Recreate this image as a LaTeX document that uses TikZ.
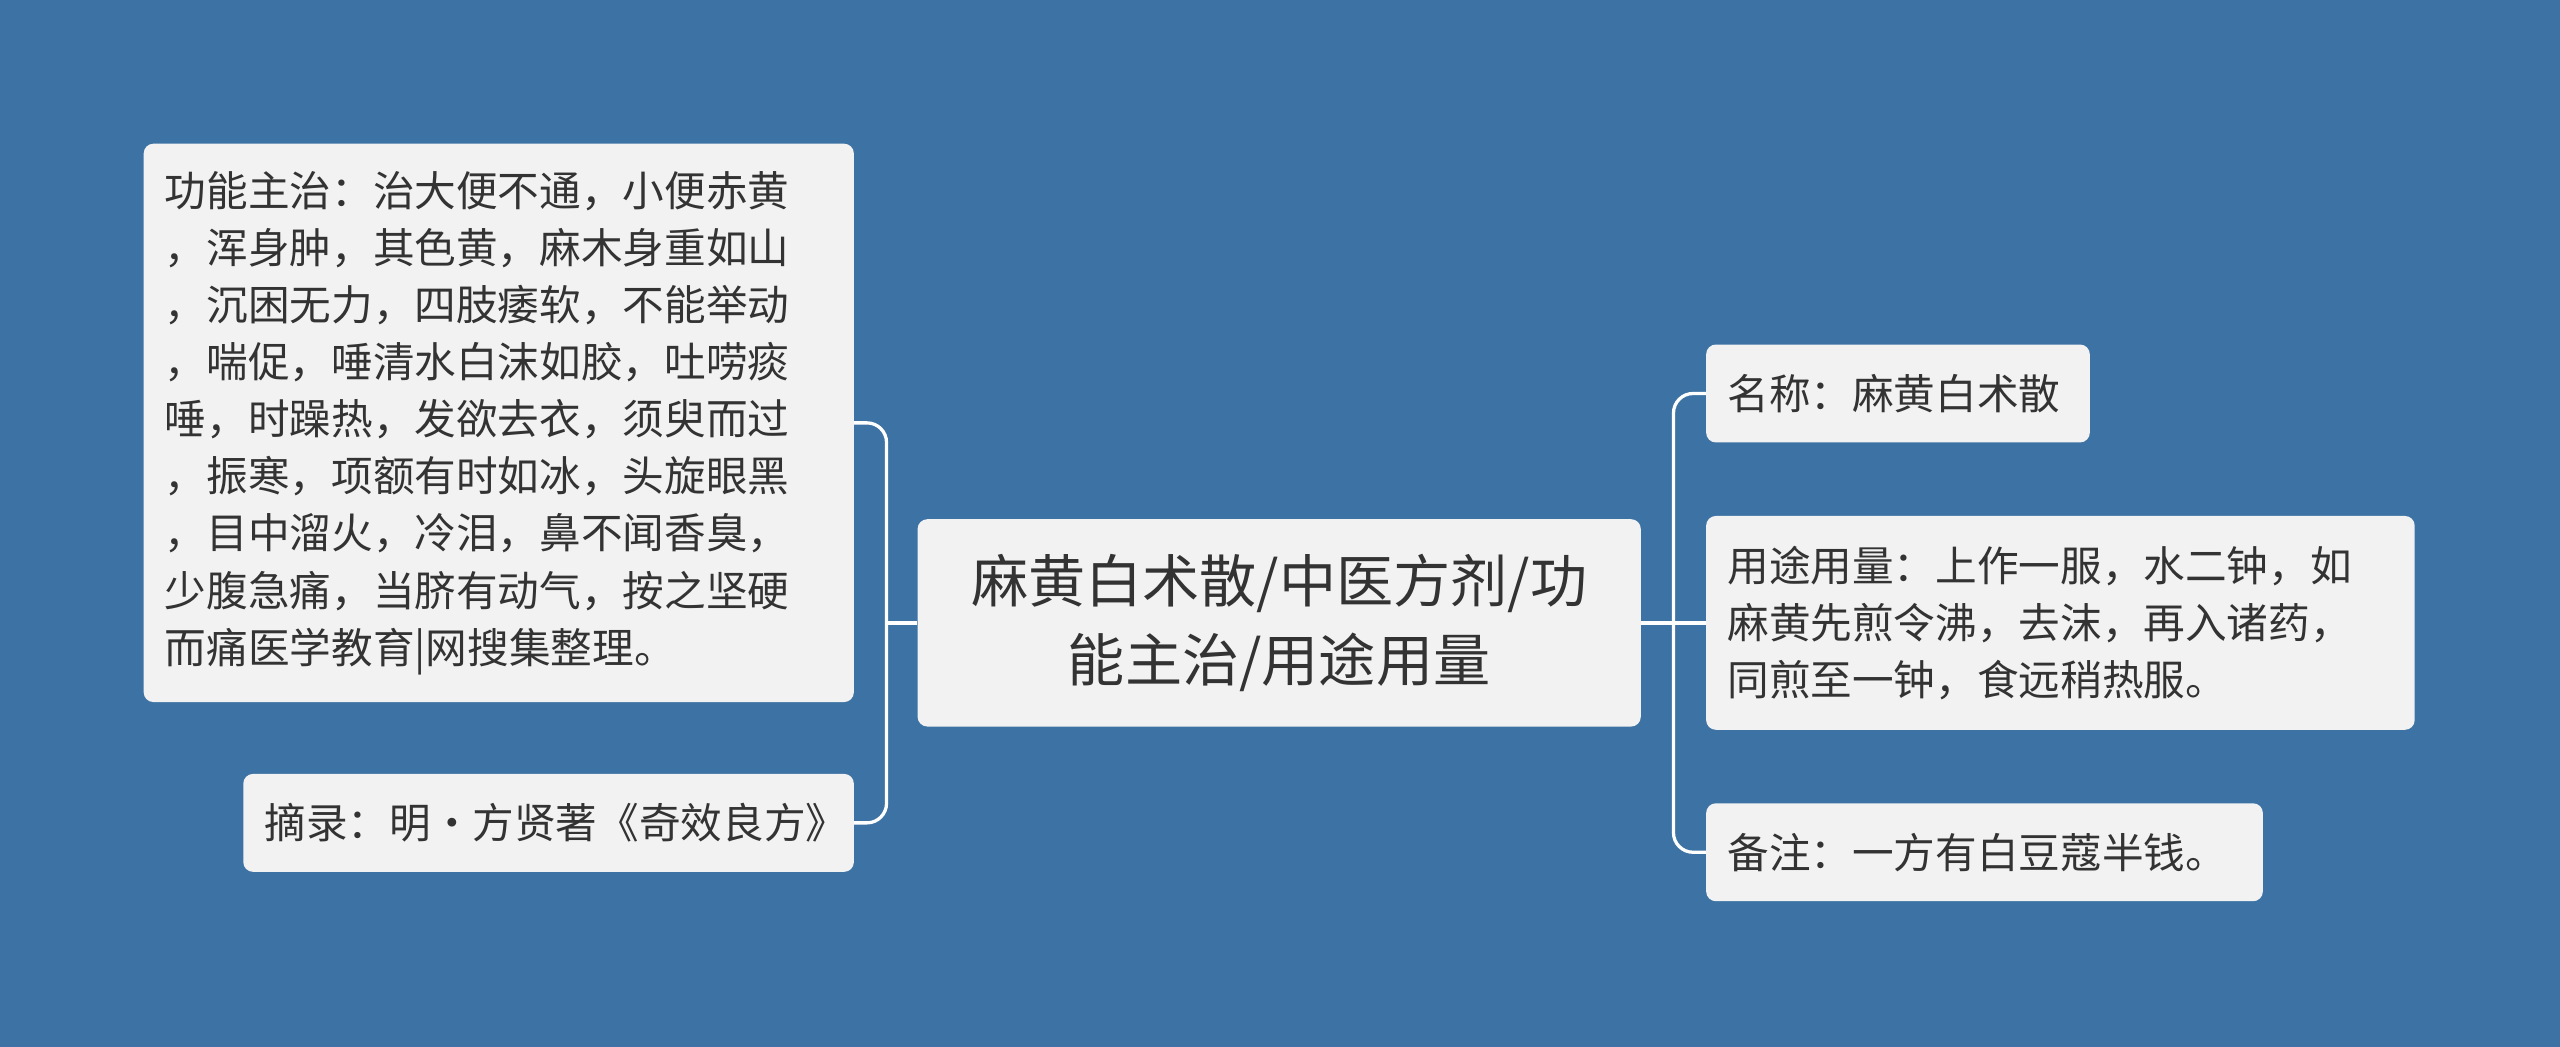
\documentclass[tikz,border=0pt]{standalone}
\usepackage{fontspec}
\setmainfont{Noto Sans CJK SC}
\definecolor{bg}{HTML}{3D72A4}
\definecolor{box}{HTML}{F2F2F2}
\definecolor{txt}{HTML}{333333}
\begin{document}
\begin{tikzpicture}[x=1pt,y=-1pt,
  leaf/.style={fill=box,rounded corners=6pt,text=txt,align=left,inner xsep=13pt,inner ysep=0pt,font=\fontsize{25.5}{35}\selectfont},
  link/.style={draw=white,line width=2pt,rounded corners=12pt}]
\fill[bg] (0,0) rectangle (1568,641);
\useasboundingbox (0,0) rectangle (1568,641);
\node[leaf,text width=417pt,minimum height=127pt,align=center,font=\fontsize{35}{48}\selectfont] (c) at (783.5,381.5) {麻黄白术散/中医方剂/功\\能主治/用途用量};
\node[leaf,text width=409pt,minimum height=342pt] (a) at (305.5,259) {功能主治：治大便不通，小便赤黄\\，浑身肿，其色黄，麻木身重如山\\，沉困无力，四肢痿软，不能举动\\，喘促，唾清水白沫如胶，吐唠痰\\唾，时躁热，发欲去衣，须臾而过\\，振寒，项额有时如冰，头旋眼黑\\，目中溜火，冷泪，鼻不闻香臭，\\少腹急痛，当脐有动气，按之坚硬\\而痛医学教育|网搜集整理。};
\node[leaf,text width=348pt,minimum height=60pt] (b) at (336,504) {摘录：明·方贤著《奇效良方》};
\node[leaf,text width=209pt,minimum height=60pt] (r1) at (1162.5,241) {名称：麻黄白术散};
\node[leaf,text width=408pt,minimum height=131pt] (r2) at (1262,381.5) {用途用量：上作一服，水二钟，如\\麻黄先煎令沸，去沫，再入诸药，\\同煎至一钟，食远稍热服。};
\node[leaf,text width=315pt,minimum height=60pt] (r3) at (1215.5,522) {备注：一方有白豆蔻半钱。};
\coordinate (lj) at (543,381.5);
\coordinate (rj) at (1025,381.5);
\draw[link] (c.west) -- (lj);
\draw[link] (lj) |- (a.east);
\draw[link] (lj) |- (b.east);
\draw[link] (c.east) -- (rj);
\draw[link] (rj) |- (r1.west);
\draw[link] (rj) -- (r2.west);
\draw[link] (rj) |- (r3.west);
\end{tikzpicture}
\end{document}
